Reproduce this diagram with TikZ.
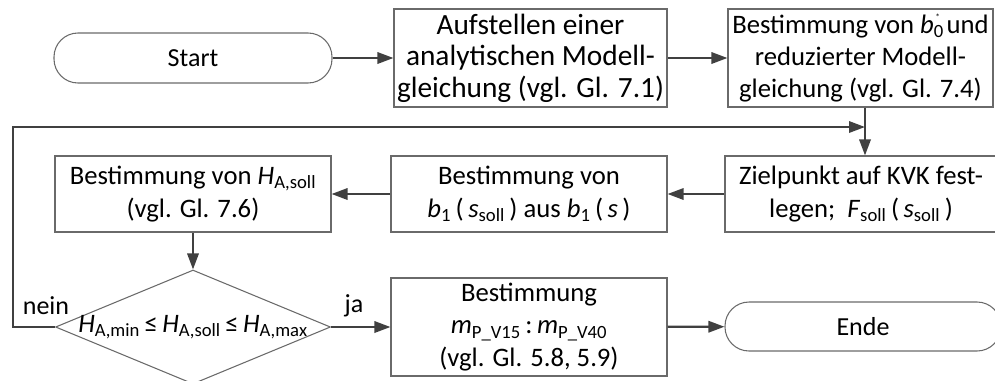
\documentclass[tikz,border=0pt]{standalone}
\usepackage{fontspec}
\setmainfont{Carlito}
\usetikzlibrary{arrows.meta,shapes.geometric}
\definecolor{conn}{HTML}{404040}
\definecolor{frame}{HTML}{6A6A6A}
\newcommand{\var}[1]{\textit{#1}}
\newcommand{\lowidx}[1]{\textsubscript{#1}}
\begin{document}
\begin{tikzpicture}[x=0.75pt,y=-0.75pt,
  every node/.style={font=\fontsize{20}{24.2}\selectfont, text=black},
  procbox/.style={draw=frame, line width=0.8pt, rectangle, align=center, inner sep=0pt},
  termbox/.style={draw=frame, line width=0.8pt, rectangle, rounded corners=18pt, inner sep=0pt,
    font=\fontsize{19.5}{24}\selectfont},
  decbox/.style={draw=frame, line width=0.8pt, diamond, inner sep=0pt},
  flow/.style={draw=conn, line width=1.7pt, -{Triangle[length=12pt,width=8.5pt]}},
  lbl/.style={inner sep=0pt, font=\fontsize{19.5}{24}\selectfont}]
\useasboundingbox (0,0) rectangle (995,380);

% top row
\node[termbox, minimum width=278*0.75pt, minimum height=50*0.75pt] (start) at (193,58) {Start};
\node[procbox, minimum width=273*0.75pt, minimum height=98*0.75pt,
      font=\fontsize{22}{23.6}\selectfont] (aufst) at (530.5,58)
  {Aufstellen einer\\analytischen Modell-\\gleichung (vgl. Gl. 7.1)};
\node[procbox, minimum width=265*0.75pt, minimum height=98*0.75pt] (bnull) at (860.5,58)
  {Bestimmung von \var{b}\textsubscript{0}\kern-0.32em\raisebox{0.5em}{\scriptsize*}\kern0.02em\ und\\reduzierter Modell-\\gleichung (vgl. Gl. 7.4)};

% middle row
\node[procbox, minimum width=272*0.75pt, minimum height=76*0.75pt] (ziel) at (861,194)
  {Zielpunkt auf KVK fest-\\legen;\ \ \var{F}\lowidx{soll}\,(\,\var{s}\lowidx{soll}\,)};
\node[procbox, minimum width=276*0.75pt, minimum height=76*0.75pt] (beins) at (529,194)
  {Bestimmung von\\\var{b}\lowidx{1}\,(\,\var{s}\lowidx{soll}\,) aus \var{b}\lowidx{1}\,(\,\var{s}\,)};
\node[procbox, minimum width=276*0.75pt, minimum height=76*0.75pt] (hsoll) at (193,194)
  {Bestimmung von \var{H}\lowidx{A,soll}\\(vgl. Gl. 7.6)};

% bottom row
\node[decbox, minimum width=275*0.75pt, minimum height=114*0.75pt] (check) at (193,327)
  {\makebox[0pt]{\raisebox{-3pt}{\var{H}\lowidx{A,min}\,≤\,\var{H}\lowidx{A,soll}\,≤\,\var{H}\lowidx{A,max}}}};
\node[procbox, minimum width=276*0.75pt, minimum height=98*0.75pt] (mverh) at (529,327)
  {Bestimmung\\\var{m}\lowidx{P\_V15}\,:\,\var{m}\lowidx{P\_V40}\\(vgl. Gl. 5.8, 5.9)};
\node[termbox, minimum width=276*0.75pt, minimum height=49*0.75pt] (ende) at (863,326.5) {Ende};

% junction of the loop with the downward line
\coordinate (join) at (865,127);
\coordinate (back) at (13,127);

% connectors
\draw[flow] (start) -- (aufst);
\draw[flow] (aufst) -- (bnull);
\draw[flow] (bnull.south -| join) -- (ziel.north -| join);
\draw[flow] (ziel) -- (beins);
\draw[flow] (beins) -- (hsoll);
\draw[flow] (hsoll) -- (check);
\draw[flow] (check.east) -- (mverh.west);
\draw[flow] (check.west) -- (back |- check.west) -- (back) -- (join);
\draw[flow] (mverh) -- (ende);
\node[lbl] (ja) at (354,306) {ja};
\node[lbl] (nein) at (46,306) {nein};
\end{tikzpicture}
\end{document}
